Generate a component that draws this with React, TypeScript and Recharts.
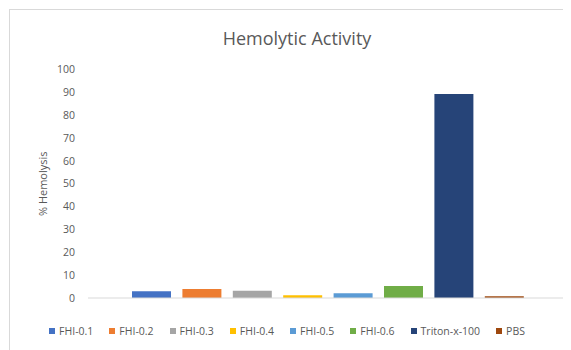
import React from "react";
import { BarChart, Bar, XAxis, YAxis, Legend } from "recharts";

const categories = ["Sample"];
const seriesNames = ["FHI-0.1", "FHI-0.2", "FHI-0.3", "FHI-0.4", "FHI-0.5", "FHI-0.6", "Triton-x-100", "PBS"];
const seriesValues = [2.9, 3.9, 3.2, 1.2, 2.1, 5.3, 89.3, 0.8];
const seriesColors = ["#4472C4", "#ED7D31", "#A5A5A5", "#FFC000", "#5B9BD5", "#70AD47", "#264478", "#9E480E"];
const yTicks = [0, 10, 20, 30, 40, 50, 60, 70, 80, 90, 100];

const data = categories.map((c) => {
  const row: Record<string, string | number> = { name: c };
  seriesNames.forEach((s, i) => {
    row[s] = seriesValues[i];
  });
  return row;
});

const FONT = "'Open Sans', sans-serif";
const GREY = "#595959";

const LegendContent = (props: any) => {
  const payload = [...(props.payload || [])].sort(
    (a: any, b: any) => seriesNames.indexOf(a.value) - seriesNames.indexOf(b.value)
  );
  return (
    <div style={{ display: "flex", justifyContent: "center", alignItems: "center", fontFamily: FONT, fontSize: 10.5, color: GREY }}>
      {payload.map((p: any, i: number) => (
        <div key={i} style={{ display: "flex", alignItems: "center", marginRight: i === payload.length - 1 ? 0 : 16 }}>
          <span style={{ display: "inline-block", width: 6, height: 6, background: p.color, marginRight: 4 }} />
          <span>{p.value}</span>
        </div>
      ))}
    </div>
  );
};

export default function App() {
  return (
    <div style={{ position: "relative", width: 563, height: 342, overflow: "hidden", background: "#fff" }}>
      <div
        style={{
          position: "absolute",
          left: 0,
          top: 0,
          width: 572,
          height: 340,
          borderLeft: "1px solid #d9d9d9",
          borderTop: "1px solid #d9d9d9",
          marginLeft: 1,
          marginTop: 1,
        }}
      >
        <div
          style={{
            position: "absolute",
            left: 0,
            width: 574,
            top: 16,
            textAlign: "center",
            fontFamily: FONT,
            fontSize: 18,
            color: GREY,
          }}
        >
          Hemolytic Activity
        </div>
        <BarChart
          width={572}
          height={340}
          data={data}
          margin={{ top: 59.5, right: 15, bottom: 37, left: 0 }}
          barSize={39}
          barGap={11.4}
        >
          <XAxis
            dataKey="name"
            tick={false}
            tickLine={false}
            axisLine={{ stroke: "#d9d9d9" }}
            height={1}
          />
          <YAxis
            domain={[0, 100]}
            ticks={yTicks}
            width={78}
            axisLine={false}
            tickLine={false}
            tickSize={0}
            tickMargin={13}
            interval={0}
            tick={{ fill: GREY, fontSize: 10.5, fontFamily: FONT }}
            label={{
              value: "% Hemolysis",
              angle: -90,
              position: "center",
              dx: -6,
              style: { fill: GREY, fontSize: 11, fontFamily: FONT, textAnchor: "middle" },
            }}
          />
          <Legend
            verticalAlign="bottom"
            content={<LegendContent />}
            wrapperStyle={{ top: 314, left: -9, width: 572 }}
          />
          {seriesNames.map((s, i) => (
            <Bar key={s} dataKey={s} name={s} fill={seriesColors[i]} isAnimationActive={false} />
          ))}
        </BarChart>
      </div>
    </div>
  );
}
